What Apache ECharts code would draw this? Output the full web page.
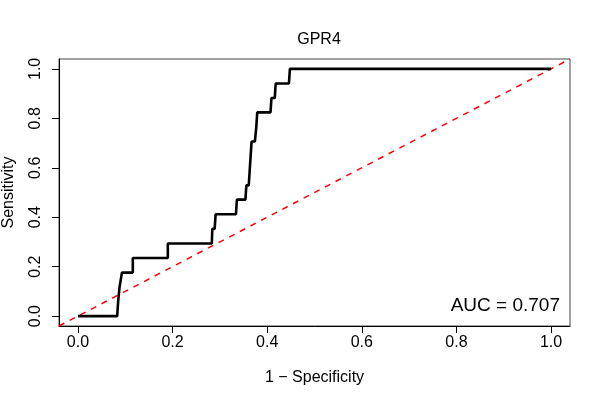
<!DOCTYPE html>
<html>
<head>
<meta charset="utf-8">
<title>GPR4 ROC</title>
<script src="https://cdn.jsdelivr.net/npm/echarts@6/dist/echarts.min.js"></script>
<style>
    html, body { margin: 0; padding: 0; background: #fff; }
    #main { width: 600px; height: 400px; }
</style>
</head>
<body>
<div id="main"></div>
<script>
// ROC curve vertices (1 - specificity, sensitivity)
var fpr = [0, 0.083, 0.085, 0.088, 0.093, 0.116, 0.116, 0.19, 0.19, 0.283, 0.284,
    0.289, 0.291, 0.334, 0.336, 0.354, 0.356, 0.361, 0.363, 0.365, 0.367, 0.374,
    0.377, 0.379, 0.407, 0.409, 0.416, 0.418, 0.446, 0.448, 1];
var tpr = [0, 0, 0.059, 0.118, 0.176, 0.176, 0.235, 0.235, 0.294, 0.294, 0.353,
    0.353, 0.412, 0.412, 0.471, 0.471, 0.529, 0.529, 0.588, 0.647, 0.706, 0.706,
    0.765, 0.824, 0.824, 0.882, 0.882, 0.941, 0.941, 1, 1];
// reference diagonal, spans the whole plot region
var diagX = [-0.04, 1.04];
var diagY = [-0.04, 1.04];
var tickValues = [0, 0.2, 0.4, 0.6, 0.8, 1.0];
var titleText = 'GPR4';
var aucText = 'AUC = 0.707';

var font = '"Liberation Sans", Arial, Helvetica, sans-serif';
var chart = echarts.init(document.getElementById('main'));

function axisCommon(name) {
    return {
        type: 'value',
        name: name,
        nameLocation: 'middle',
        nameTextStyle: { color: '#000', fontSize: 16, fontFamily: font },
        min: -0.04,
        max: 1.04,
        splitLine: { show: false },
        axisLine: { show: true, onZero: false, lineStyle: { color: '#000', width: 1 } },
        axisTick: {
            show: true,
            length: 7,
            customValues: tickValues,
            lineStyle: { color: '#000', width: 1 }
        },
        axisLabel: {
            color: '#000',
            fontSize: 16,
            fontFamily: font,
            customValues: tickValues,
            formatter: v => v.toFixed(1)
        }
    };
}

var xAxis = axisCommon('1 \u2212 Specificity');
xAxis.nameGap = 44;
xAxis.axisLabel.margin = 9;

var yAxis = axisCommon('Sensitivity');
yAxis.nameGap = 42;
yAxis.axisLabel.margin = 15;
yAxis.axisLabel.rotate = 90;

chart.setOption({
    animation: false,
    backgroundColor: '#fff',
    title: {
        text: titleText,
        left: 314,
        top: 27,
        textAlign: 'center',
        textStyle: { color: '#000', fontSize: 16, fontWeight: 'normal', fontFamily: font }
    },
    grid: {
        left: 59,
        right: 30,
        top: 59,
        bottom: 74,
        outerBoundsMode: 'none',
        show: true,
        borderColor: '#444',
        borderWidth: 1
    },
    xAxis: xAxis,
    yAxis: yAxis,
    graphic: [{
        type: 'text',
        right: 40,
        top: 296,
        style: {
            text: aucText,
            fill: '#000',
            fontSize: 19,
            fontFamily: font
        }
    }],
    series: [{
        type: 'line',
        showSymbol: false,
        silent: true,
        data: diagX.map((x, i) => [x, diagY[i]]),
        lineStyle: { color: '#ff0000', width: 1.5, type: [6, 6] }
    }, {
        type: 'line',
        showSymbol: false,
        silent: true,
        data: fpr.map((x, i) => [x, tpr[i]]),
        lineStyle: { color: '#000', width: 2.6 }
    }]
});
</script>
</body>
</html>
